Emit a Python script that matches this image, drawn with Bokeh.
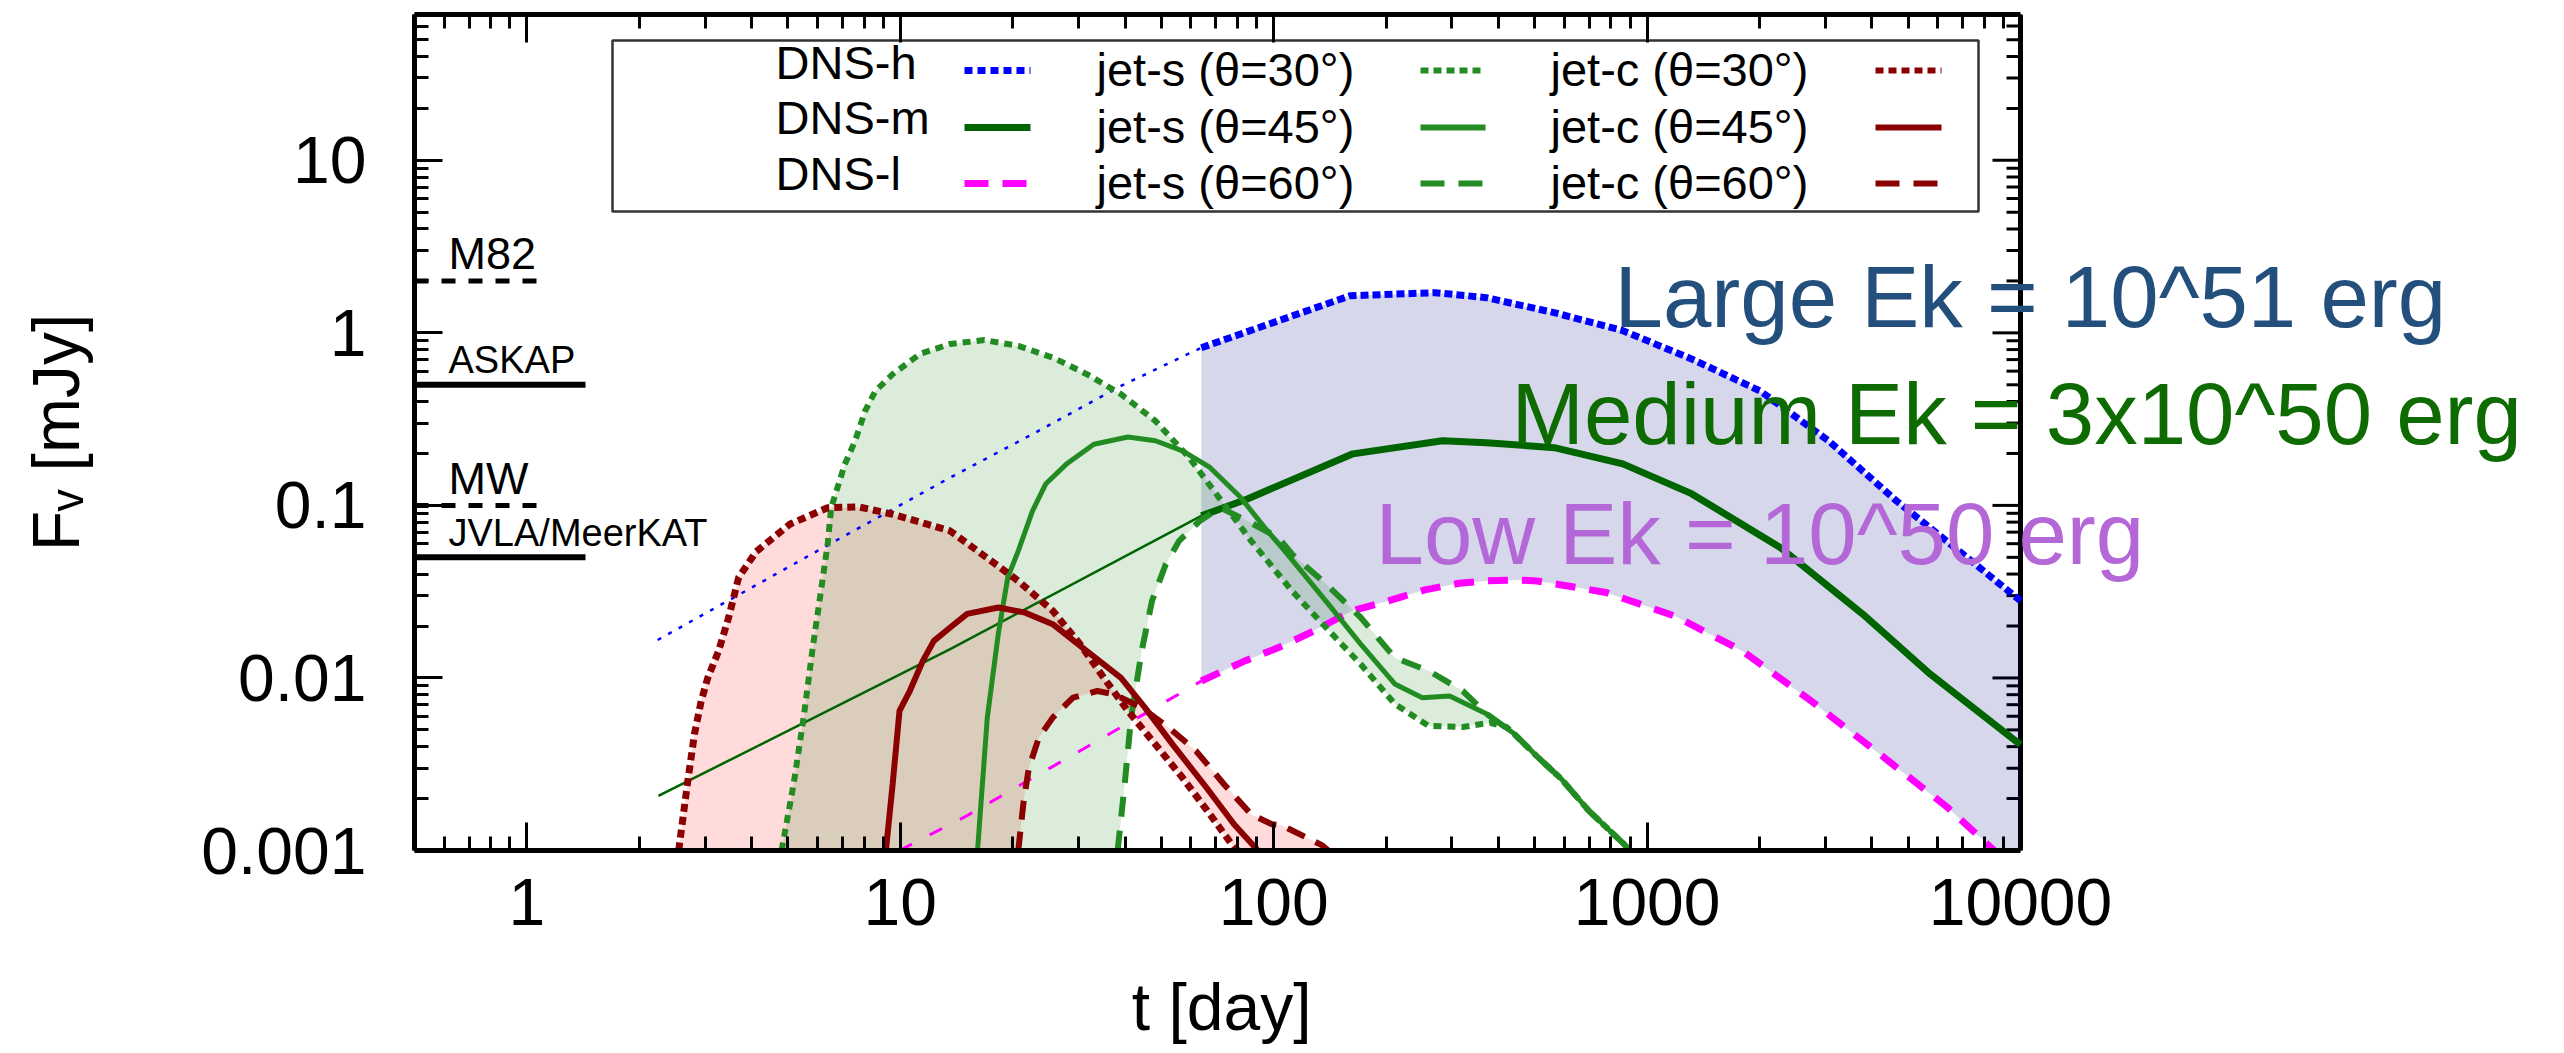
import math
from bokeh.plotting import figure
from bokeh.models import Range1d, LogAxis, Label, CustomJSTickFormatter, LogTicker
from bokeh.core.properties import value
from bokeh.embed import file_html
from bokeh.resources import INLINE

# ---------------- data ----------------
# DNS-h (blue): thin early power-law part, then thick part
dns_h_early_t = [2.24, 6.0, 13.6, 23, 39, 64]
dns_h_early_f = [0.0166, 0.0545, 0.145, 0.264, 0.493, 0.82]
dns_h_t = [64, 91, 160, 271, 371, 564, 861, 1315, 2006, 3060, 4660, 6660, 10000]
dns_h_f = [0.82, 1.07, 1.64, 1.71, 1.60, 1.31, 1.03, 0.706, 0.461, 0.237, 0.106, 0.0571, 0.028]

# DNS-m (dark green)
dns_m_early_t = [2.25, 13.6, 64]
dns_m_early_f = [0.00207, 0.0147, 0.087]
dns_m_t = [64, 85, 163, 283, 371, 564, 861, 1315, 2277, 3775, 5740, 10000]
dns_m_f = [0.087, 0.109, 0.199, 0.237, 0.231, 0.216, 0.174, 0.117, 0.0569, 0.0235, 0.0105, 0.0041]

# DNS-l (magenta)
dns_l_early_t = [9.95, 15, 55.8, 64]
dns_l_early_f = [0.001, 0.00158, 0.00808, 0.0096]
dns_l_t = [64, 82.6, 103, 128, 162, 202, 254, 314, 371, 440, 508, 776, 1183, 1804, 2750, 4190, 6390, 8420, 10000]
dns_l_f = [0.0096, 0.0124, 0.015, 0.0187, 0.0245, 0.0279, 0.0324, 0.0354, 0.0365, 0.037, 0.0365, 0.0313,
           0.0229, 0.0143, 0.00736, 0.00363, 0.00177, 0.00102, 0.0007]

# jet-s (forest green); the three angles share a common late tail
jet_s_tail_t = [438, 508, 589, 698, 863, 900]
jet_s_tail_f = [0.0048, 0.0035, 0.0026, 0.0017, 0.0011, 0.001]
jet_s30_t = [4.81, 5.18, 5.51, 5.81, 6.13, 6.39, 6.53, 7.1, 7.57, 8.05, 8.58, 9.54, 11.3, 13.6, 16.8, 20.7,
             25.6, 31.6, 39.0, 48.2, 59.4, 73.5, 87, 112, 138, 171, 211, 260, 321, 380, 420]
jet_s30_f = [0.001, 0.00243, 0.00589, 0.0143, 0.0319, 0.0598, 0.097, 0.173, 0.237, 0.353, 0.461, 0.576,
             0.755, 0.863, 0.908, 0.841, 0.719, 0.576, 0.441, 0.309, 0.189, 0.102, 0.0623, 0.0319, 0.0196,
             0.012, 0.00707, 0.00527, 0.0052, 0.0055, 0.0052]
jet_s45_t = [16.1, 17.1, 18.3, 19.4, 20.7, 22.6, 24.5, 27.8, 33, 40.7, 48.2, 57, 67.5, 81.6, 94.6, 107,
             138, 171, 211, 250, 296, 371]
jet_s45_f = [0.001, 0.00589, 0.018, 0.0382, 0.0545, 0.0929, 0.133, 0.173, 0.226, 0.249, 0.237, 0.207,
             0.166, 0.111, 0.0743, 0.0545, 0.0279, 0.0157, 0.00923, 0.00769, 0.00786, 0.0062]
jet_s60_t = [38.2, 39.9, 41.5, 44.3, 47.2, 51.4, 55.8, 63.4, 71.9, 85, 103, 112, 138, 171, 211, 260, 321, 371]
jet_s60_f = [0.001, 0.00243, 0.00589, 0.0143, 0.0279, 0.0456, 0.0623, 0.0813, 0.097, 0.0813, 0.065,
             0.0521, 0.0351, 0.0224, 0.0131, 0.011, 0.0084, 0.0062]

# jet-c (dark red)
jet_c30_t = [2.55, 2.69, 2.81, 2.93, 3.05, 3.26, 3.47, 3.69, 4.11, 5.07, 6.39, 7.73, 9.54, 11.8, 13.6,
             16.1, 20.7, 25.6, 30.3, 35.1, 40.7, 48.2, 57, 67.5, 78.3, 80]
jet_c30_f = [0.001, 0.00243, 0.00473, 0.00736, 0.01, 0.0143, 0.0224, 0.0382, 0.054, 0.078, 0.097, 0.098,
             0.0889, 0.0778, 0.0711, 0.0545, 0.0365, 0.0245, 0.0157, 0.01, 0.00644, 0.00412, 0.00264,
             0.00162, 0.00104, 0.001]
jet_c45_t = [9.15, 9.54, 9.95, 10.6, 11.5, 12.3, 13.6, 15.1, 18.3, 21.6, 25.6, 31.6, 39, 45.2, 53.6,
             66.1, 78.3, 90.7]
jet_c45_f = [0.001, 0.00243, 0.00644, 0.0084, 0.0126, 0.0164, 0.0196, 0.0235, 0.0256, 0.0239, 0.0205,
             0.0143, 0.01, 0.00673, 0.00412, 0.00231, 0.00142, 0.001]
jet_c60_t = [20.7, 21.4, 22.1, 23.5, 25.6, 29, 33.7, 37.4, 44.3, 52.4, 62, 73.5, 87, 98.9, 105, 135, 140]
jet_c60_f = [0.001, 0.00194, 0.00302, 0.00451, 0.00589, 0.00769, 0.0084, 0.00804, 0.00673, 0.00515,
             0.00377, 0.00243, 0.00162, 0.00142, 0.0014, 0.00107, 0.001]

# detection limits (mJy)
ref_names = ["M82", "ASKAP", "MW", "JVLA/MeerKAT"]
ref_flux = [2.0, 0.5, 0.1, 0.05]
ref_dashed = [True, False, True, False]

legend_col1 = ["DNS-h", "DNS-m", "DNS-l"]
legend_col2 = ["jet-s (\u03b8=30\u00b0)", "jet-s (\u03b8=45\u00b0)", "jet-s (\u03b8=60\u00b0)"]
legend_col3 = ["jet-c (\u03b8=30\u00b0)", "jet-c (\u03b8=45\u00b0)", "jet-c (\u03b8=60\u00b0)"]

energy_texts = ["Large Ek = 10^51 erg", "Medium Ek = 3x10^50 erg", "Low Ek = 10^50 erg"]

x_title = "t [day]"
y_title = "F\u1d65 [mJy]"

# ---------------- layout helpers ----------------
XMIN, XMAX, YMIN, YMAX = 0.5, 10000, 0.001, 70
FL, FR, FT, FB = 414, 2020, 14, 850      # the drawn plot box, in canvas pixels
CANVAS_W, CANVAS_H = 2564, 1053
FRAME_R = 2560                           # frame extended to the right so the big labels are not clipped
LX0, LX1 = math.log10(XMIN), math.log10(XMAX)
LY0, LY1 = math.log10(YMIN), math.log10(YMAX)
PX_PER_DEC_X = (FR - FL) / (LX1 - LX0)
PX_PER_DEC_Y = (FB - FT) / (LY1 - LY0)


def tx(px):
    return 10 ** (LX0 + (px - FL) / PX_PER_DEC_X)


def fy(py):
    return 10 ** (LY0 + (FB - py) / PX_PER_DEC_Y)


def lift(f, px):
    return 10 ** (math.log10(f) + px / PX_PER_DEC_Y)


FONT = "Liberation Sans"
BLUE, DGREEN, MAGENTA, FGREEN, DRED = "#0000ff", "#006400", "#ff00ff", "#228b22", "#8b0000"

p = figure(width=CANVAS_W, height=CANVAS_H, x_axis_type="log", y_axis_type="log",
           x_range=Range1d(XMIN, tx(FRAME_R)), y_range=Range1d(YMIN, YMAX),
           output_backend="svg", toolbar_location=None,
           min_border_left=FL, min_border_right=CANVAS_W - FRAME_R, min_border_top=FT,
           min_border_bottom=CANVAS_H - FB)
p.grid.visible = False
p.outline_line_color = None
p.background_fill_color = "white"
p.border_fill_color = "white"

xt = LogTicker(num_minor_ticks=10)
yt = LogTicker(num_minor_ticks=10)
fmt = CustomJSTickFormatter(code="return Number(tick.toPrecision(3)).toString();")
blank = CustomJSTickFormatter(code="return '';")

MAJ, MIN_, TW, AW = 28, 14, 3, 5
TICK_FONT_PX = 66


def style(ax):
    ax.axis_line_width = AW
    ax.axis_line_color = "black"
    ax.major_tick_in = MAJ
    ax.major_tick_out = 0
    ax.minor_tick_in = MIN_
    ax.minor_tick_out = 0
    ax.major_tick_line_width = TW
    ax.minor_tick_line_width = TW
    ax.major_label_text_font = FONT
    ax.major_label_text_font_size = f"{TICK_FONT_PX}px"
    ax.major_label_text_color = "black"
    ax.axis_label_text_font = FONT
    ax.axis_label_text_font_style = "normal"
    ax.axis_label_text_font_size = f"{TICK_FONT_PX}px"
    ax.axis_label_text_color = "black"


xa = p.xaxis[0]
xa.ticker = xt
xa.formatter = fmt
xa.bounds = (XMIN, XMAX)
style(xa)
xa.major_label_standoff = 28
# the axis title is centred on the (extended) frame; pad it with no-break spaces
# so that the visible words sit under the centre of the plot box
shift_px = (FL + FRAME_R) / 2 - (FL + FR) / 2
n_pad = int(round(2 * shift_px / (0.278 * TICK_FONT_PX)))
xa.axis_label = x_title + "\u00a0" * n_pad
xa.axis_label_standoff = 42

ya = p.yaxis[0]
ya.ticker = yt
ya.formatter = fmt
style(ya)
ya.major_label_standoff = 48
ya.axis_label = y_title
ya.axis_label_standoff = 105

top = LogAxis(ticker=xt, formatter=blank, major_label_standoff=0, bounds=(XMIN, XMAX))
style(top)
p.add_layout(top, "above")

# right border of the plot box at t = 10000, with inward ticks
p.segment(x0=[XMAX], y0=[YMIN], x1=[XMAX], y1=[YMAX], line_color="black", line_width=AW)
major_y = [10.0 ** n for n in range(-3, 2)]
minor_y = [k * 10.0 ** n for n in range(-3, 2) for k in range(2, 10) if k * 10.0 ** n < YMAX]
p.segment(x0=[XMAX] * len(major_y), y0=major_y, x1=[tx(FR - MAJ)] * len(major_y), y1=major_y,
          line_color="black", line_width=TW)
p.segment(x0=[XMAX] * len(minor_y), y0=minor_y, x1=[tx(FR - MIN_)] * len(minor_y), y1=minor_y,
          line_color="black", line_width=TW)

# ---------------- shaded bands ----------------
p.patch(dns_h_t + dns_l_t[::-1], dns_h_f + dns_l_f[::-1],
        fill_color="#000080", fill_alpha=0.155, line_color=None)
p.patch(jet_c30_t + jet_c60_t[::-1], jet_c30_f + jet_c60_f[::-1],
        fill_color="#ff0000", fill_alpha=0.14, line_color=None)
s30_all_t = jet_s30_t + jet_s_tail_t
s30_all_f = jet_s30_f + jet_s_tail_f
s60_all_t = jet_s60_t + jet_s_tail_t
s60_all_f = jet_s60_f + jet_s_tail_f
p.patch(s30_all_t + s60_all_t[::-1], s30_all_f + s60_all_f[::-1],
        fill_color=FGREEN, fill_alpha=0.16, line_color=None)

# ---------------- curves ----------------
p.line(dns_h_early_t, dns_h_early_f, line_color=BLUE, line_width=2.5, line_dash="4 8")
p.line(dns_h_t, dns_h_f, line_color=BLUE, line_width=7, line_dash="8 4")
p.line(dns_m_early_t, dns_m_early_f, line_color=DGREEN, line_width=2.5)
p.line(dns_m_t, dns_m_f, line_color=DGREEN, line_width=7)
p.line(dns_l_early_t, dns_l_early_f, line_color=MAGENTA, line_width=3, line_dash="14 20")
p.line(dns_l_t, dns_l_f, line_color=MAGENTA, line_width=7, line_dash="20 14")

p.line(s30_all_t, s30_all_f, line_color=FGREEN, line_width=6, line_dash="8 6")
p.line(jet_s45_t + jet_s_tail_t, jet_s45_f + jet_s_tail_f, line_color=FGREEN, line_width=5)
p.line(s60_all_t, s60_all_f, line_color=FGREEN, line_width=6, line_dash="20 14")

p.line(jet_c30_t, jet_c30_f, line_color=DRED, line_width=7, line_dash="8 5")
p.line(jet_c45_t, jet_c45_f, line_color=DRED, line_width=6)
p.line(jet_c60_t, jet_c60_f, line_color=DRED, line_width=6, line_dash="19 12")

# ---------------- energy labels (y = vertical centre of the capitals) ----------------
energy_colors = ["#234f7d", "#0e6b02", "#b468d8"]
energy_px = [(1614, 296), (1511, 413), (1375, 533)]
for txt, col, (px, py) in zip(energy_texts, energy_colors, energy_px):
    p.add_layout(Label(x=tx(px), y=fy(py), text=txt, text_color=col, text_font=FONT,
                       text_font_size="87px", text_baseline="middle", text_align="left"))

# ---------------- detection limits ----------------
ref_label_px = [45, 38, 45, 38]
for name, flux, dashed, fpx in zip(ref_names, ref_flux, ref_dashed, ref_label_px):
    x_end = tx(549) if dashed else tx(585)
    p.line([XMIN, x_end], [flux, flux], line_color="black", line_width=5 if dashed else 6,
           line_dash="14 13" if dashed else "solid")
    p.text(x=[tx(448)], y=[lift(flux, 11 + 0.36 * fpx)], text=[name], text_font=value(FONT),
           text_font_size=f"{fpx}px", text_color="black", text_baseline="middle", text_align="left")

# ---------------- legend box ----------------
p.quad(left=[tx(612)], right=[tx(1978)], top=[fy(40)], bottom=[fy(211)],
       fill_color="white", line_color="#333333", line_width=2.5)
row_line_py = [70, 127, 183]
row_text1_py = [62, 117, 173]
row_text23_py = [69, 126, 182]
col_specs = [
    (legend_col1, 775, (964, 1030), row_text1_py,
     [(BLUE, 7, "8 5"), (DGREEN, 7, "solid"), (MAGENTA, 7, "24 14")]),
    (legend_col2, 1096, (1420, 1485), row_text23_py,
     [(FGREEN, 6, "8 5"), (FGREEN, 6, "solid"), (FGREEN, 6, "24 14")]),
    (legend_col3, 1550, (1875, 1941), row_text23_py,
     [(DRED, 6, "8 5"), (DRED, 6, "solid"), (DRED, 6, "24 14")]),
]
for labels, text_px, (l0, l1), text_rows, styles in col_specs:
    p.text(x=[tx(text_px)] * 3, y=[fy(v) for v in text_rows], text=labels, text_font=value(FONT),
           text_font_size="47px", text_color="black", text_baseline="middle", text_align="left")
    for py, (col, w, dash) in zip(row_line_py, styles):
        p.line([tx(l0), tx(l1)], [fy(py), fy(py)], line_color=col, line_width=w, line_dash=dash)

open("out.html", "w").write(file_html(p, INLINE))
